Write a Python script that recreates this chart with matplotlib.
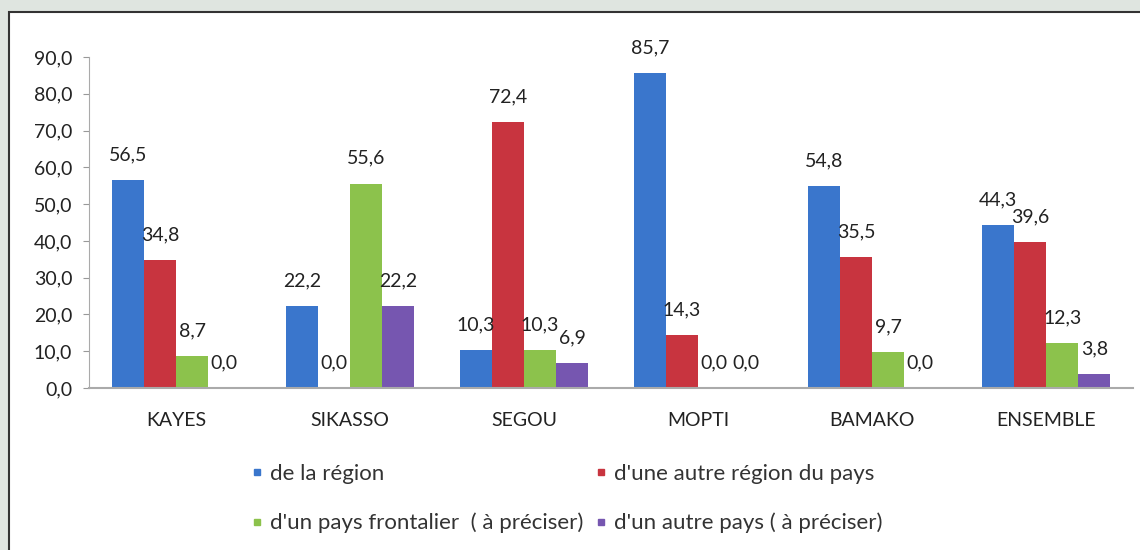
import matplotlib
matplotlib.use("Agg")
import matplotlib.pyplot as plt
import numpy as np
from matplotlib.patches import Rectangle
from matplotlib.lines import Line2D

categories = ["KAYES", "SIKASSO", "SEGOU", "MOPTI", "BAMAKO", "ENSEMBLE"]
series_names = ["de la région", "d'une autre région du pays",
                "d'un pays frontalier  ( à préciser)", "d'un autre pays ( à préciser)"]
de_la_region = [56.5, 22.2, 10.3, 85.7, 54.8, 44.3]
autre_region = [34.8, 0.0, 72.4, 14.3, 35.5, 39.6]
pays_frontalier = [8.7, 55.6, 10.3, 0.0, 9.7, 12.3]
autre_pays = [0.0, 22.2, 6.9, 0.0, 0.0, 3.8]
yticks = [0, 10, 20, 30, 40, 50, 60, 70, 80, 90]

colors = ["#3a76cc", "#c8343f", "#8cc24c", "#7656b0"]
series = [de_la_region, autre_region, pays_frontalier, autre_pays]

plt.rcParams['font.family'] = ['Lato', 'DejaVu Sans']
FS = 14

fig = plt.figure(figsize=(11.4, 5.5), dpi=100)
fig.patch.set_facecolor("#dfe5e0")
box = Rectangle((9/1140, -0.1), 1.2, 0.1 + (550-12)/550, transform=fig.transFigure,
                facecolor="white", edgecolor="#333333", lw=1.5, zorder=-5)
fig.patches.append(box)

ax = fig.add_axes([89/1140, (550-388)/550, (1133-89)/1140, (388-57)/550])
ax.set_facecolor("none")
ax.set_zorder(2)

x = np.arange(len(categories))
w = 0.185
handles = []
for i, (vals, c) in enumerate(zip(series, colors)):
    pos = x + (i - 1.5) * w
    bars = ax.bar(pos, vals, width=w, color=c, zorder=2)
    labels = [f"{v:.1f}".replace('.', ',') for v in vals]
    ax.bar_label(bars, labels=labels, padding=12, fontsize=FS, color="#222222")
    handles.append(Line2D([], [], marker='s', linestyle='none', color=c, markersize=5))

ax.set_xlim(-0.5, len(categories) - 0.5)
ax.set_ylim(0, 90)
ax.set_yticks(yticks)
ax.set_yticklabels([f"{v:.1f}".replace('.', ',') for v in yticks], fontsize=FS, color="#222222")
ax.set_xticks(x)
ax.set_xticklabels(categories, fontsize=FS, color="#222222")
ax.tick_params(axis='x', length=0, pad=17)
ax.tick_params(axis='y', length=4, color="#999999", pad=8)
for s in ["top", "right"]:
    ax.spines[s].set_visible(False)
ax.spines["left"].set_color("#aaaaaa")
ax.spines["bottom"].set_color("#aaaaaa")
ax.spines["bottom"].set_linewidth(1.5)

order = [0, 2, 1, 3]
leg = fig.legend([handles[i] for i in order], [series_names[i] for i in order],
                 ncol=2, loc="upper left", bbox_to_anchor=(250/1140, 1 - 464/550),
                 frameon=False, fontsize=16, handlelength=0.6, handletextpad=0.3,
                 columnspacing=0.5, labelspacing=1.3, borderaxespad=0, borderpad=0)
for t in leg.get_texts():
    t.set_color("#333333")

fig.savefig("out.png", dpi=100, facecolor=fig.get_facecolor())
